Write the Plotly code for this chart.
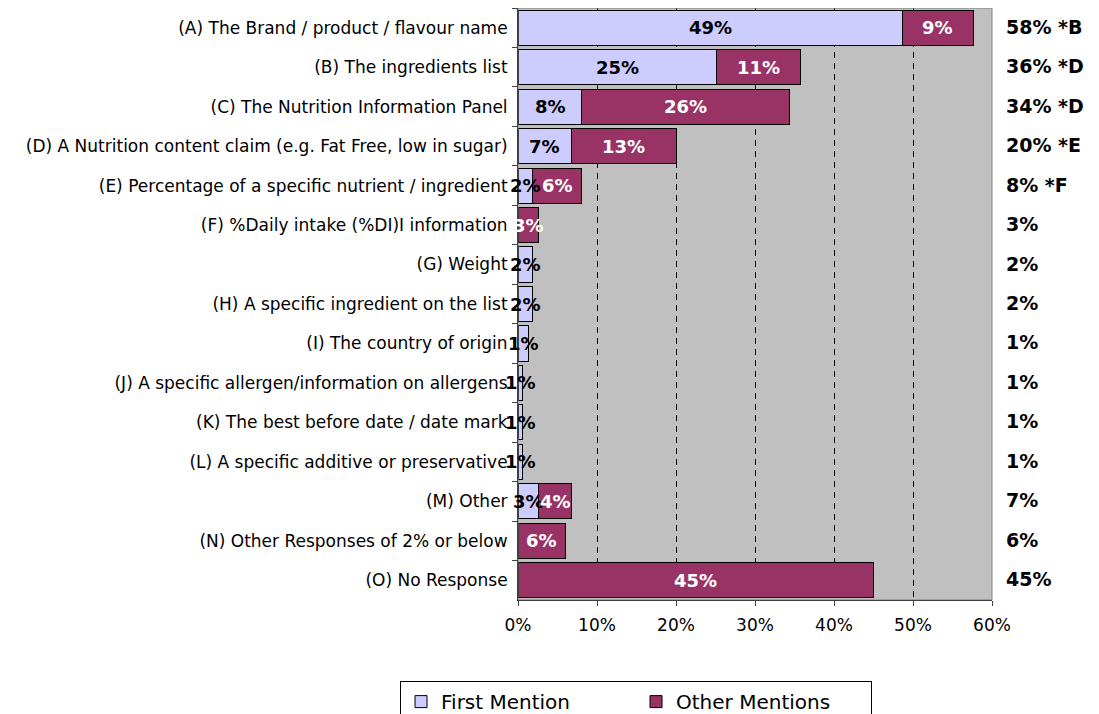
import plotly.graph_objects as go

categories = [
    "(A) The Brand / product / flavour name",
    "(B) The ingredients list",
    "(C) The Nutrition Information Panel",
    "(D) A Nutrition content claim (e.g. Fat Free, low in sugar)",
    "(E) Percentage of a specific nutrient / ingredient",
    "(F) %Daily intake (%DI)I information",
    "(G) Weight",
    "(H) A specific ingredient on the list",
    "(I) The country of origin",
    "(J) A specific allergen/information on allergens",
    "(K) The best before date / date mark",
    "(L) A specific additive or preservative",
    "(M) Other",
    "(N) Other Responses of 2% or below",
    "(O) No Response",
]
first_mention = [48.7, 25.1, 8.1, 6.8, 1.8, 0, 1.8, 1.8, 1.3, 0.6, 0.6, 0.6, 2.6, 0, 0]
other_mentions = [8.9, 10.6, 26.3, 13.2, 6.3, 2.6, 0, 0, 0, 0, 0, 0, 4.2, 6.0, 45.0]
total_labels = ["58% *B", "36% *D", "34% *D", "20% *E", "8% *F", "3%", "2%", "2%",
                "1%", "1%", "1%", "1%", "7%", "6%", "45%"]
x_ticks = [0, 10, 20, 30, 40, 50, 60]
x_tick_labels = ["0%", "10%", "20%", "30%", "40%", "50%", "60%"]

FONT = "DejaVu Sans, Verdana, sans-serif"

fig = go.Figure()
fig.add_trace(go.Bar(
    y=categories, x=first_mention, orientation="h", name="First Mention",
    marker=dict(color="#CCCCFF", line=dict(color="#000000", width=1)),
))
fig.add_trace(go.Bar(
    y=categories, x=other_mentions, orientation="h", name="Other Mentions",
    marker=dict(color="#993366", line=dict(color="#000000", width=1)),
))

annotations = []
for cat, f, o, tot in zip(categories, first_mention, other_mentions, total_labels):
    if f > 0:
        annotations.append(dict(x=f / 2, y=cat, xref="x", yref="y", text=f"{round(f)}%",
                                showarrow=False, font=dict(family=FONT, size=18, color="black", weight="bold")))
    if o > 0:
        annotations.append(dict(x=f + o / 2, y=cat, xref="x", yref="y", text=f"{round(o)}%",
                                showarrow=False, font=dict(family=FONT, size=18, color="white", weight="bold")))
    annotations.append(dict(x=1.026, y=cat, xref="paper", yref="y", text=tot, xanchor="left",
                            yshift=1, showarrow=False,
                            font=dict(family=FONT, size=19, color="black", weight="bold")))

fig.update_layout(
    width=1091, height=706,
    margin=dict(l=510, r=107, t=0, b=114, autoexpand=False),
    barmode="stack", bargap=0.11,
    plot_bgcolor="#C0C0C0", paper_bgcolor="white",
    font=dict(family=FONT, size=17, color="black"),
    annotations=annotations,
    legend=dict(orientation="h", x=0.249, xanchor="center", y=-0.137, yanchor="top",
                bordercolor="black", borderwidth=1, font=dict(size=20, family=FONT),
                itemwidth=30, traceorder="normal", entrywidth=190),
    xaxis=dict(range=[0, 60], tickvals=x_ticks, ticktext=x_tick_labels, showgrid=True,
               gridcolor="black", griddash="6px,5px", gridwidth=1, zeroline=False,
               showline=True, linecolor="black", ticks="outside", ticklen=5,
               tickfont=dict(size=17), fixedrange=True, automargin=False,
               ticklabelstandoff=5),
    yaxis=dict(autorange="reversed", showline=True, linecolor="black", ticks="outside",
               ticklen=5, tickson="boundaries", tickfont=dict(size=17), showgrid=False,
               automargin=False, ticklabelstandoff=6),
    shapes=[dict(type="rect", xref="paper", yref="paper", x0=0, x1=1, y0=0, y1=1,
                 line=dict(color="#808080", width=1), layer="above")],
)

fig.write_html("out.html")
